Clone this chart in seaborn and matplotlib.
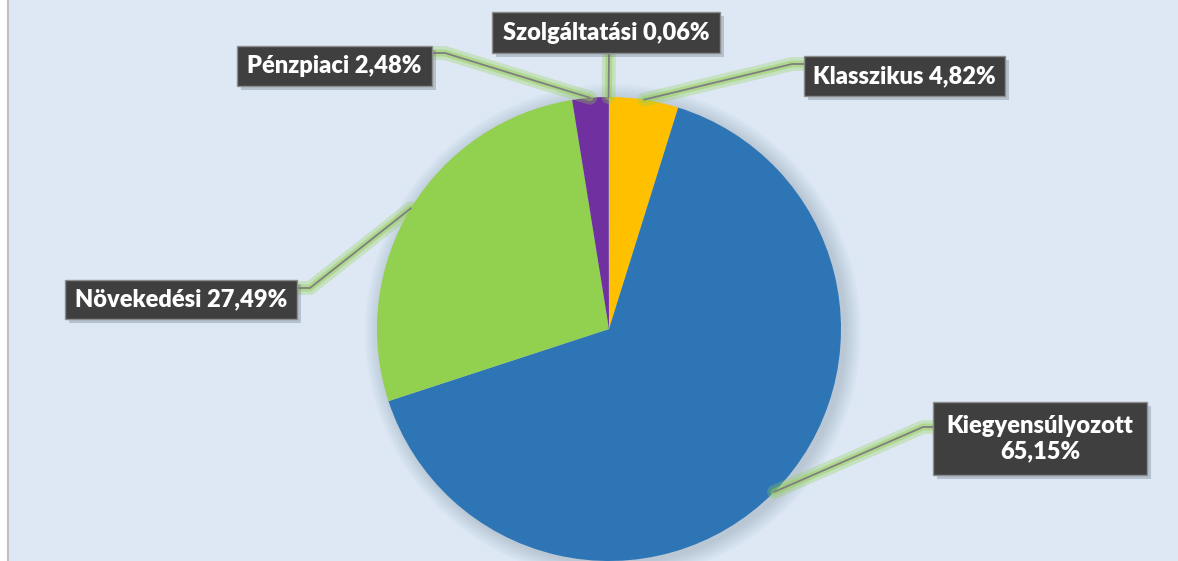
import seaborn as sns
import matplotlib.pyplot as plt
import numpy as np
from matplotlib.patches import Rectangle, Circle

# data
categories = ['Klasszikus', 'Kiegyensúlyozott', 'Növekedési', 'Pénzpiaci', 'Szolgáltatási']
shares = [4.82, 65.15, 27.49, 2.48, 0.06]
colors = ['#ffc000', '#2e75b6', '#92d050', '#7030a0', '#6a3a9a']
wrap = [False, True, False, False, False]

# label boxes in pixel coords (left, top, right, bottom) and elbow x / attach y
boxes = [(804, 56, 1005, 96), (933, 402, 1147, 475), (65, 280, 297, 319),
         (237, 46, 432, 86), (492, 12, 720, 53)]
elbows = [(792, 64, 804), (923, 427, 933), (310, 288, 297), (445, 53, 432), (609, 53, 609)]

W, H = 1178, 561
CX, CY, R = 609, 329, 232

sns.set_theme(style='white')
plt.rcParams['font.family'] = ['Lato', 'DejaVu Sans']

fig = plt.figure(figsize=(W / 100, H / 100), dpi=100)
fig.patch.set_facecolor('white')
ax = fig.add_axes([0, 0, 1, 1])


def fy(y):
    return H - y


# background panel
ax.add_patch(Rectangle((8, 0), W - 8, H, fc='#dde8f4', ec='none', zorder=0))
ax.plot([7.5, 7.5], [0, H], color='#bfbfbf', lw=1.5, zorder=1)

# soft shadow around pie
for k in range(16, 0, -1):
    ax.add_patch(Circle((CX + 4, fy(CY) - 3), R + k, fc='#6f7f92', ec='none',
                        alpha=0.02, zorder=1))

wedges, _ = ax.pie(shares, colors=colors, startangle=90, counterclock=False,
                   center=(CX, fy(CY)), radius=R, frame=True,
                   wedgeprops=dict(linewidth=0, zorder=2))
ax.set_xlim(0, W)
ax.set_ylim(0, H)
ax.set_aspect('equal')
ax.axis('off')

# labels
cum = np.cumsum([0] + shares[:-1])
for i, name in enumerate(categories):
    mid = np.deg2rad(90 - (cum[i] + shares[i] / 2) * 3.6)
    px, py = CX + R * np.cos(mid), fy(CY) + R * np.sin(mid)
    ex, ey, bx = elbows[i]
    xs = [px, ex, bx]
    ys = [py, fy(ey), fy(ey)]
    ax.plot(xs, ys, color='#92d050', lw=10, alpha=0.3, solid_capstyle='round', zorder=3)
    ax.plot(xs, ys, color='#92d050', lw=5, alpha=0.45, solid_capstyle='round', zorder=3)
    ax.plot(xs, ys, color='#7f7f7f', lw=1.3, zorder=4)

    l, t, r, b = boxes[i]
    ax.add_patch(Rectangle((l + 4, fy(b) - 4), r - l, b - t, fc='#6d7a88', ec='none',
                           alpha=0.35, zorder=5))
    ax.add_patch(Rectangle((l, fy(b)), r - l, b - t, fc='#3f3f3f', ec='#8c8c8c',
                           lw=1, zorder=6))
    pct = f'{shares[i]:.2f}'.replace('.', ',') + '%'
    txt = f'{name}\n{pct}' if wrap[i] else f'{name} {pct}'
    ax.text((l + r) / 2, fy((t + b) / 2), txt, color='white', fontsize=17,
            fontweight='heavy', ha='center', va='center', linespacing=1.15, zorder=7)

fig.savefig('out.png', dpi=100, facecolor='white')
